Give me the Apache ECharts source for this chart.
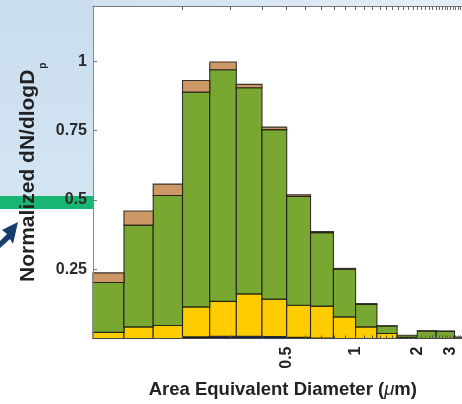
<!DOCTYPE html>
<html>
<head>
<meta charset="utf-8">
<script src="https://cdn.jsdelivr.net/npm/echarts@6/dist/echarts.min.js"></script>
<style>
  html, body { margin: 0; padding: 0; background: #fff; }
  #chart { width: 462px; height: 404px; }
</style>
</head>
<body>
<div id="chart"></div>
<script>
// bin edges in um (10 bins per decade)
const binEdges = [0.1, 0.126, 0.158, 0.2, 0.251, 0.316, 0.398, 0.501, 0.631, 0.794, 1, 1.26, 1.58, 2, 2.51, 3.16, 3.98];

// stacked layer heights per bin, bottom to top
const navy   = [0, 0, 0, 0.006, 0.008, 0.008, 0.007, 0.004, 0.002, 0, 0, 0, 0, 0, 0, 0];
const yellow = [0.022, 0.042, 0.047, 0.108, 0.126, 0.153, 0.135, 0.116, 0.115, 0.078, 0.042, 0.018, 0.004, 0, 0, 0];
const green  = [0.180, 0.367, 0.469, 0.775, 0.836, 0.744, 0.612, 0.393, 0.265, 0.172, 0.081, 0.027, 0.008, 0.027, 0.026, 0.005];
const tan    = [0.035, 0.051, 0.041, 0.042, 0.028, 0.012, 0.009, 0.006, 0.004, 0.003, 0.003, 0.001, 0, 0.001, 0.001, 0];

const xTickLabels = [0.5, 1, 2, 3];
const yTickLabels = [0.25, 0.5, 0.75, 1];
const minorStep = 0.1;

// the source axis is compressed towards large diameters, roughly x ~ -d^-0.161
const K = 0.161;
const fx = d => -Math.pow(d, -K);
const xMin = fx(0.1), xMax = fx(4);

const minorTicks = [];
for (let t = 2; t <= 39; t++) minorTicks.push(fx(t * minorStep));

const layers = [
  { name: 'navy', values: navy, color: '#0b1f6b' },
  { name: 'yellow', values: yellow, color: '#ffcc00' },
  { name: 'green', values: green, color: '#78a832' },
  { name: 'tan', values: tan, color: '#cc9966' }
];

const base = green.map(() => 0);
const series = layers.map(l => {
  const data = l.values.map((v, i) => {
    const item = [fx(binEdges[i]), fx(binEdges[i + 1]), base[i], base[i] + v];
    base[i] += v;
    return item;
  });
  return {
    type: 'custom',
    name: l.name,
    z: 2,
    encode: { x: [0, 1], y: [2, 3] },
    data: data,
    renderItem: (params, api) => {
      if (api.value(3) - api.value(2) <= 0) return null;
      const a = api.coord([api.value(0), api.value(2)]);
      const b = api.coord([api.value(1), api.value(3)]);
      return {
        type: 'rect',
        shape: { x: a[0], y: b[1], width: b[0] - a[0], height: a[1] - b[1] },
        style: { fill: l.color, stroke: 'rgba(25,25,20,0.85)', lineWidth: 1.1 }
      };
    }
  };
});

const chart = echarts.init(document.getElementById('chart'));

chart.setOption({
  backgroundColor: '#ffffff',
  animation: false,
  graphic: [
    {
      type: 'rect', z: -10, silent: true,
      shape: { x: 0, y: 0, width: 462, height: 6 },
      style: { fill: new echarts.graphic.LinearGradient(0, 0, 1, 0, [
        { offset: 0, color: '#cbdeef' }, { offset: 1, color: '#e4eef6' }]) }
    },
    {
      type: 'rect', z: -10, silent: true,
      shape: { x: 0, y: 0, width: 93, height: 197 },
      style: { fill: new echarts.graphic.LinearGradient(0, 0, 0, 1, [
        { offset: 0, color: '#c9ddef' }, { offset: 1, color: '#d4e5f2' }]) }
    },
    {
      type: 'rect', z: -10, silent: true,
      shape: { x: 0, y: 196, width: 93, height: 13 },
      style: { fill: '#19b673' }
    },
    {
      type: 'polygon', z: -10, silent: true,
      shape: { points: [[18, 222], [2, 230], [7, 234], [0, 241], [0, 248], [10, 239], [13, 244]] },
      style: { fill: '#173d6d' }
    }
  ],
  grid: { left: 93, top: 6, width: 379.6, height: 332.5, containLabel: false, outerBoundsMode: 'none' },
  xAxis: [
    {
      type: 'value',
      position: 'bottom',
      min: xMin,
      max: xMax,
      z: 5,
      axisLine: { show: true, lineStyle: { color: '#444', width: 1 } },
      axisTick: { show: true, inside: true, length: 3, customValues: minorTicks, lineStyle: { color: '#555' } },
      axisLabel: {
        customValues: xTickLabels.map(fx),
        rotate: 90,
        margin: 8,
        fontSize: 16,
        fontWeight: 'bold',
        color: '#222',
        fontFamily: 'Liberation Sans, Arial, sans-serif',
        formatter: v => {
          let best = xTickLabels[0];
          xTickLabels.forEach(t => { if (Math.abs(fx(t) - v) < Math.abs(fx(best) - v)) best = t; });
          return String(best);
        }
      },
      splitLine: { show: false },
      name: '{b|Area Equivalent Diameter (}{i|\u03bc}{b|m)}',
      nameLocation: 'middle',
      nameGap: 42,
      nameTextStyle: {
        rich: {
          b: { fontSize: 18.5, fontWeight: 'bold', color: '#222', fontFamily: 'Liberation Sans, Arial, sans-serif' },
          i: { fontSize: 18.5, fontStyle: 'italic', color: '#222', fontFamily: 'Liberation Sans, Arial, sans-serif' }
        }
      }
    },
    {
      type: 'value',
      position: 'top',
      min: xMin,
      max: xMax,
      z: 5,
      axisLine: { show: true, lineStyle: { color: '#777', width: 1 } },
      axisTick: { show: true, inside: true, length: 4, customValues: minorTicks, lineStyle: { color: '#666' } },
      axisLabel: { show: false },
      splitLine: { show: false }
    }
  ],
  yAxis: {
    type: 'value',
    min: 0,
    max: 1.2,
    z: 5,
    axisLine: { show: true, lineStyle: { color: '#888', width: 1 } },
    axisTick: { show: true, inside: true, length: 4, customValues: yTickLabels, lineStyle: { color: '#777' } },
    axisLabel: {
      customValues: yTickLabels,
      margin: 6,
      fontSize: 16,
      fontWeight: 'bold',
      color: '#2a2a2a',
      fontFamily: 'Liberation Sans, Arial, sans-serif'
    },
    splitLine: { show: false },
    name: '{m|Normalized dN/dlogD}{s|p}',
    nameLocation: 'middle',
    nameRotate: 90,
    nameGap: 53,
    nameMoveOverlap: false,
    nameTextStyle: {
      rich: {
        m: { fontSize: 21, fontWeight: 'bold', color: '#222', lineHeight: 24, fontFamily: 'Liberation Sans, Arial, sans-serif' },
        s: { fontSize: 10, fontWeight: 'bold', color: '#222', lineHeight: 12, padding: [30, 0, 0, 1], fontFamily: 'Liberation Sans, Arial, sans-serif' }
      }
    }
  },
  series: series
});
</script>
</body>
</html>
